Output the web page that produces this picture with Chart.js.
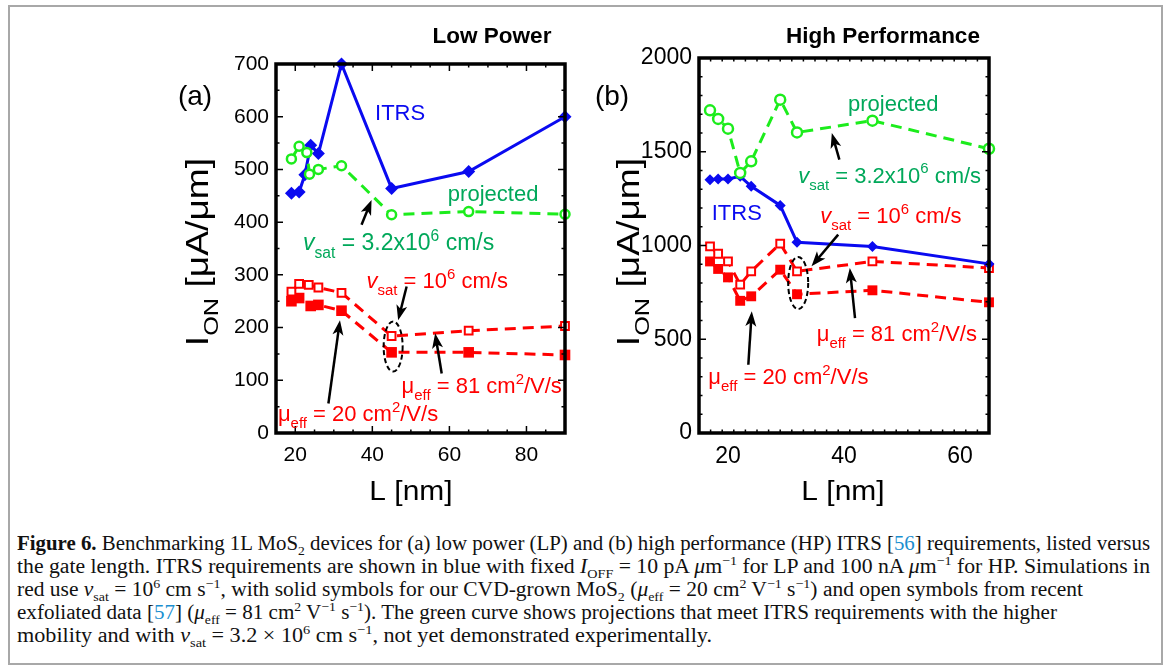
<!DOCTYPE html>
<html>
<head>
<meta charset="utf-8">
<script src="https://cdn.jsdelivr.net/npm/chart.js@4.4.1/dist/chart.umd.min.js"></script>
<style>
  body { margin: 0; background: #fff; }
  #page { position: relative; width: 1171px; height: 668px; overflow: hidden; background: #fff; }
  #frame { position: absolute; left: 8px; top: 5px; width: 1155px; height: 660px; border: 2px solid #a8a8a8; box-sizing: border-box; }
  canvas { position: absolute; top: 0; }
  #cap { position: absolute; left: 17px; top: 0; font-family: "Liberation Serif", "DejaVu Serif", serif; font-size: 20px; color: #111; }
  .ln { position: absolute; left: 0; white-space: nowrap; transform-origin: 0 0; line-height: 20px; }
  .ln sub, .ln sup { font-size: 65%; line-height: 0; }
  .ref { color: #1a8fd0; }
</style>
</head>
<body>
<div id="page">
  <div id="frame"></div>
  <canvas id="lp" width="590" height="520" style="left:0"></canvas>
  <canvas id="hp" width="581" height="520" style="left:590px"></canvas>
  <div id="cap">
    <div class="ln" data-w="1133" style="top:533px"><b>Figure 6.</b> Benchmarking 1L MoS<sub>2</sub> devices for (a) low power (LP) and (b) high performance (HP) ITRS [<span class="ref">56</span>] requirements, listed versus</div>
    <div class="ln" data-w="1133" style="top:556px">the gate length. ITRS requirements are shown in blue with fixed <i>I</i><sub>OFF</sub> = 10 pA <i>μ</i>m<sup>−1</sup> for LP and 100 nA <i>μ</i>m<sup>−1</sup> for HP. Simulations in</div>
    <div class="ln" data-w="1066" style="top:579px">red use <i>v</i><sub>sat</sub> = 10<sup>6</sup> cm s<sup>−1</sup>, with solid symbols for our CVD-grown MoS<sub>2</sub> (<i>μ</i><sub>eff</sub> = 20 cm<sup>2</sup> V<sup>−1</sup> s<sup>−1</sup>) and open symbols from recent</div>
    <div class="ln" data-w="1040" style="top:602px">exfoliated data [<span class="ref">57</span>] (<i>μ</i><sub>eff</sub> = 81 cm<sup>2</sup> V<sup>−1</sup> s<sup>−1</sup>). The green curve shows projections that meet ITRS requirements with the higher</div>
    <div class="ln" data-w="695" style="top:625px">mobility and with <i>v</i><sub>sat</sub> = 3.2 × 10<sup>6</sup> cm s<sup>−1</sup>, not yet demonstrated experimentally.</div>
  </div>
</div>
<script>
// ---------------- data ----------------
// (a) Low Power
const lpItrsL   = [19, 21, 22.5, 24, 26, 32, 45, 65, 90];
const lpItrsI   = [455, 457, 490, 546, 530, 700, 464, 496, 600];
const lpProjL   = [19, 21, 23, 23.7, 26, 32, 45, 65, 90];
const lpProjI   = [520, 544, 532, 491, 500, 507, 414, 420, 415];
const lpOpenL   = [19, 21, 23.5, 26, 32, 45, 65, 90];
const lpOpenI   = [268, 283, 281, 276, 266, 184, 194, 203];
const lpSolidL  = [19, 21, 24, 26, 32, 45, 65, 90];
const lpSolidI  = [250, 256, 241, 243, 232, 153, 153, 148];
const lpTicksX  = [20, 40, 60, 80];

// (b) High Performance
const hpL       = [16.9, 18.3, 20, 22.1, 24, 29, 31.9, 44.9, 65];
const hpItrsI   = [1351, 1355, 1355, 1369, 1316, 1214, 1017, 995, 902];
const hpProjI   = [1721, 1675, 1623, 1387, 1449, 1778, 1603, 1666, 1516];
const hpOpenI   = [995, 956, 915, 791, 862, 1010, 862, 915, 880];
const hpSolidI  = [915, 875, 830, 705, 729, 871, 740, 761, 697];
const hpTicksX  = [20, 40, 60];

const BLUE = '#0a0af0', GREEN = '#1cec1c', GREEN_TXT = '#00a85a', RED = '#ff0000';
const FAM = '"Liberation Sans", Arial, sans-serif';
Chart.defaults.font.family = FAM;
Chart.defaults.color = '#000';

const pts = (xs, ys) => xs.map((x, i) => ({ x: x, y: ys[i] }));

function greenSet(xs, ys, r) {
  return { data: pts(xs, ys), showLine: true, borderColor: GREEN, borderWidth: 3, borderDash: [11, 7],
    pointStyle: 'circle', pointRadius: r, pointBorderWidth: 2.5, pointBackgroundColor: '#fff', clip: false };
}
function blueSet(xs, ys, r) {
  return { data: pts(xs, ys), showLine: true, borderColor: BLUE, borderWidth: 3,
    pointStyle: 'rectRot', pointRadius: r, pointBorderWidth: 0, pointBackgroundColor: BLUE, clip: false };
}
function redSet(xs, ys, r, open) {
  return { data: pts(xs, ys), showLine: true, borderColor: RED, borderWidth: 3, borderDash: [11, 7],
    pointStyle: 'rect', pointRadius: r, pointBorderWidth: open ? 2 : 0,
    pointBackgroundColor: open ? '#fff' : RED, clip: false };
}

// ---------------- drawing helpers ----------------
function richText(ctx, x, y, parts, size, color, align) {
  ctx.save();
  ctx.fillStyle = color;
  ctx.textBaseline = 'alphabetic';
  ctx.textAlign = 'left';
  const fontFor = p => {
    const small = p[1] === 'sub' || p[1] === 'sup';
    return (p[1] === 'i' ? 'italic ' : '') + (p[1] === 'b' ? 'bold ' : '') + (small ? size * 0.68 : size) + 'px ' + FAM;
  };
  let w = 0;
  parts.forEach(p => { ctx.font = fontFor(p); w += ctx.measureText(p[0]).width; });
  let cx = align === 'center' ? x - w / 2 : x;
  parts.forEach(p => {
    ctx.font = fontFor(p);
    const dy = p[1] === 'sub' ? size * 0.32 : p[1] === 'sup' ? -size * 0.42 : 0;
    ctx.fillText(p[0], cx, y + dy);
    cx += ctx.measureText(p[0]).width;
  });
  ctx.restore();
}

function arrow(ctx, x1, y1, x2, y2) {
  const a = Math.atan2(y2 - y1, x2 - x1), L = 15, W = 5.5;
  ctx.save();
  ctx.strokeStyle = '#000'; ctx.fillStyle = '#000'; ctx.lineWidth = 2.5;
  ctx.beginPath(); ctx.moveTo(x1, y1); ctx.lineTo(x2 - L * 0.7 * Math.cos(a), y2 - L * 0.7 * Math.sin(a)); ctx.stroke();
  ctx.beginPath();
  ctx.moveTo(x2, y2);
  ctx.lineTo(x2 - L * Math.cos(a) + W * Math.sin(a), y2 - L * Math.sin(a) - W * Math.cos(a));
  ctx.lineTo(x2 - L * 0.75 * Math.cos(a), y2 - L * 0.75 * Math.sin(a));
  ctx.lineTo(x2 - L * Math.cos(a) - W * Math.sin(a), y2 - L * Math.sin(a) + W * Math.cos(a));
  ctx.closePath(); ctx.fill();
  ctx.restore();
}

function dashedEllipse(ctx, cx, cy, rx, ry) {
  ctx.save();
  ctx.strokeStyle = '#000'; ctx.lineWidth = 2; ctx.setLineDash([5, 3]);
  ctx.beginPath(); ctx.ellipse(cx, cy, rx, ry, 0, 0, Math.PI * 2); ctx.stroke();
  ctx.restore();
}

// frame, inward ticks and all labels
function decorPlugin(cfg) {
  return {
    id: 'decor',
    afterDatasetsDraw(chart) {
      const ctx = chart.ctx, a = chart.chartArea, sx = chart.scales.x, sy = chart.scales.y;
      const X = v => sx.getPixelForValue(v), Y = v => sy.getPixelForValue(v);
      ctx.save();
      ctx.strokeStyle = '#000';
      ctx.lineWidth = 1.5;
      ctx.beginPath();
      for (let v = sx.min; v <= sx.max + 1e-9; v += cfg.minorX) {
        const major = cfg.ticksX.includes(v), len = major ? 7 : 3.5;
        ctx.moveTo(X(v), a.bottom); ctx.lineTo(X(v), a.bottom - len);
        ctx.moveTo(X(v), a.top); ctx.lineTo(X(v), a.top + len);
      }
      for (let v = sy.min; v <= sy.max + 1e-9; v += cfg.minorY) {
        const major = v % cfg.stepY === 0, len = major ? 7 : 3.5;
        ctx.moveTo(a.left, Y(v)); ctx.lineTo(a.left + len, Y(v));
        ctx.moveTo(a.right, Y(v)); ctx.lineTo(a.right - len, Y(v));
      }
      ctx.stroke();
      ctx.lineWidth = 3.5;
      ctx.strokeRect(a.left, a.top, a.right - a.left, a.bottom - a.top);
      ctx.restore();

      // titles and axis names
      richText(ctx, cfg.title[1], 43, [[cfg.title[0], 'b']], 22.5, '#000', 'center');
      richText(ctx, cfg.panel[1], 105, [[cfg.panel[0], '']], 28, '#000', 'center');
      ctx.save();
      ctx.translate(cfg.xName, 500);
      ctx.scale(1.07, 1);
      richText(ctx, 0, 0, [['L [nm]', '']], 28, '#000', 'center');
      ctx.restore();
      ctx.save();
      ctx.translate(cfg.yName + 11, 252);
      ctx.rotate(-Math.PI / 2);
      ctx.scale(1.2, 1);
      richText(ctx, 0, 0, [['I', ''], ['ON', 'sub'], [' [μA/μm]', '']], 31, '#000', 'center');
      ctx.restore();

      // annotations (anchored in data units)
      cfg.notes.forEach(n => {
        if (n.kind === 'text') richText(ctx, X(n.x), Y(n.y) + 8, n.parts, n.size || 22, n.color, 'left');
        if (n.kind === 'arrow') arrow(ctx, X(n.x1), Y(n.y1), X(n.x2), Y(n.y2));
        if (n.kind === 'ellipse') dashedEllipse(ctx, X(n.x), Y(n.y), n.rx, n.ry);
      });
    }
  };
}

const vsatFast = [['v', 'i'], ['sat', 'sub'], [' = 3.2x10', ''], ['6', 'sup'], [' cm/s', '']];
const vsatSlow = [['v', 'i'], ['sat', 'sub'], [' = 10', ''], ['6', 'sup'], [' cm/s', '']];
const mu20 = [['μ', ''], ['eff', 'sub'], [' = 20 cm', ''], ['2', 'sup'], ['/V/s', '']];
const mu81 = [['μ', ''], ['eff', 'sub'], [' = 81 cm', ''], ['2', 'sup'], ['/V/s', '']];

function makePanel(id, o) {
  return new Chart(document.getElementById(id), {
    type: 'scatter',
    data: { datasets: o.datasets },
    options: {
      responsive: false,
      animation: false,
      layout: { padding: o.padding },
      plugins: { legend: { display: false }, tooltip: { enabled: false } },
      scales: {
        x: {
          type: 'linear', min: o.xMin, max: o.xMax,
          grid: { display: false, drawTicks: false }, border: { display: false },
          afterBuildTicks: s => { s.ticks = o.ticksX.map(v => ({ value: v })); },
          afterFit: s => { s.height = 50; },
          ticks: { autoSkip: false, maxRotation: 0, padding: 10, font: { size: o.tickSize }, color: '#000',
            callback: v => String(v) }
        },
        y: {
          type: 'linear', min: 0, max: o.yMax,
          grid: { display: false, drawTicks: false }, border: { display: false },
          afterFit: s => { s.width = 60; },
          ticks: { stepSize: o.stepY, padding: 7, font: { size: o.tickSize }, color: '#000',
            callback: v => String(v) }
        }
      }
    },
    plugins: [decorPlugin(o.decor)]
  });
}

makePanel('lp', {
  xMin: 15, xMax: 90, yMax: 700, stepY: 100, ticksX: lpTicksX, tickSize: 21,
  padding: { left: 216, top: 64, right: 25, bottom: 37 },
  datasets: [
    greenSet(lpProjL, lpProjI, 4.5),
    blueSet(lpItrsL, lpItrsI, 6.5),
    redSet(lpOpenL, lpOpenI, 5.5, true),
    redSet(lpSolidL, lpSolidI, 7.5, false)
  ],
  decor: {
    ticksX: lpTicksX, minorX: 5, minorY: 50, stepY: 100,
    title: ['Low Power', 492], panel: ['(a)', 195], xName: 411, yName: 197,
    notes: [
      { kind: 'text', x: 40.7, y: 609, parts: [['ITRS', '']], color: BLUE },
      { kind: 'text', x: 59.6, y: 455, parts: [['projected', '']], color: GREEN_TXT },
      { kind: 'text', x: 22.0, y: 362, parts: vsatFast, color: GREEN_TXT, size: 23 },
      { kind: 'arrow', x1: 37.2, y1: 395, x2: 39.8, y2: 442 },
      { kind: 'text', x: 38.5, y: 290, parts: vsatSlow, color: RED },
      { kind: 'arrow', x1: 48.9, y1: 278, x2: 46.7, y2: 214 },
      { kind: 'ellipse', x: 45.4, y: 164, rx: 9.5, ry: 25 },
      { kind: 'arrow', x1: 28.6, y1: 56, x2: 31.6, y2: 214 },
      { kind: 'text', x: 15.5, y: 38, parts: mu20, color: RED },
      { kind: 'arrow', x1: 58.0, y1: 113, x2: 56.3, y2: 189 },
      { kind: 'text', x: 47.6, y: 91, parts: mu81, color: RED }
    ]
  }
});

makePanel('hp', {
  xMin: 15, xMax: 65, yMax: 2000, stepY: 500, ticksX: hpTicksX, tickSize: 23,
  padding: { left: 49, top: 58, right: 182, bottom: 37 },
  datasets: [
    greenSet(hpL, hpProjI, 5),
    blueSet(hpL, hpItrsI, 5.5),
    redSet(hpL, hpOpenI, 5.5, true),
    redSet(hpL, hpSolidI, 7, false)
  ],
  decor: {
    ticksX: hpTicksX, minorX: 2, minorY: 100, stepY: 500,
    title: ['High Performance', 293], panel: ['(b)', 22], xName: 253, yName: 38,
    notes: [
      { kind: 'text', x: 40.7, y: 1760, parts: [['projected', '']], color: GREEN_TXT },
      { kind: 'text', x: 32.1, y: 1378, parts: vsatFast, color: GREEN_TXT },
      { kind: 'arrow', x1: 39.2, y1: 1458, x2: 37.9, y2: 1600 },
      { kind: 'text', x: 17.2, y: 1179, parts: [['ITRS', '']], color: BLUE },
      { kind: 'text', x: 35.9, y: 1164, parts: vsatSlow, color: RED },
      { kind: 'arrow', x1: 39.0, y1: 1058, x2: 34.4, y2: 889 },
      { kind: 'ellipse', x: 32.1, y: 800, rx: 10, ry: 26 },
      { kind: 'arrow', x1: 23.5, y1: 364, x2: 24.1, y2: 649 },
      { kind: 'text', x: 16.6, y: 302, parts: mu20, color: RED },
      { kind: 'arrow', x1: 41.9, y1: 613, x2: 41.0, y2: 880 },
      { kind: 'text', x: 35.3, y: 533, parts: mu81, color: RED }
    ]
  }
});

// fit each caption line to the width it has in the figure
document.querySelectorAll('#cap .ln').forEach(el => {
  const w = el.getBoundingClientRect().width;
  el.style.transform = 'scaleX(' + (parseFloat(el.dataset.w) / w) + ')';
});
</script>
</body>
</html>
